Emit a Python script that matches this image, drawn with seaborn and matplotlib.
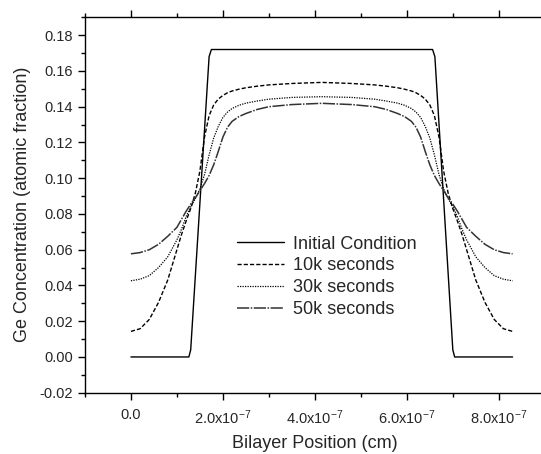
import numpy as np
import pandas as pd
import seaborn as sns
import matplotlib.pyplot as plt
from matplotlib.ticker import MultipleLocator, FormatStrFormatter

# positions in units of 1e-7 cm
x_init = [0.0, 1.26, 1.30, 1.70, 1.75, 6.56, 6.61, 7.00, 7.04, 8.30]
c_init = [0.0, 0.0, 0.004, 0.168, 0.172, 0.172, 0.168, 0.004, 0.0, 0.0]

x_diff = [0.0, 0.2, 0.4, 0.6, 0.8, 1.0, 1.1, 1.2, 1.3, 1.4, 1.5, 1.6, 1.7, 1.8,
          1.9, 2.0, 2.1, 2.2, 2.35, 2.5, 2.75, 3.0, 3.5, 4.15,
          4.8, 5.3, 5.55, 5.8, 5.95, 6.1, 6.2, 6.3, 6.4, 6.5, 6.6, 6.7, 6.8,
          6.9, 7.0, 7.1, 7.2, 7.3, 7.5, 7.7, 7.9, 8.1, 8.3]
c_10k = [0.0143, 0.0158, 0.0210, 0.0305, 0.0430, 0.0600, 0.0685, 0.0760, 0.0830,
         0.0915, 0.1040, 0.1230, 0.1350, 0.1410, 0.1443, 0.1463, 0.1478, 0.1488,
         0.1498, 0.1506, 0.1515, 0.1522, 0.1530, 0.1536,
         0.1530, 0.1522, 0.1515, 0.1506, 0.1498, 0.1488, 0.1478, 0.1463, 0.1443,
         0.1410, 0.1350, 0.1230, 0.1040, 0.0915, 0.0830, 0.0760, 0.0685, 0.0600,
         0.0430, 0.0305, 0.0210, 0.0158, 0.0143]
c_30k = [0.0426, 0.0435, 0.0455, 0.0500, 0.0560, 0.0655, 0.0715, 0.0785, 0.0840,
         0.0885, 0.0940, 0.1020, 0.1130, 0.1225, 0.1290, 0.1340, 0.1370, 0.1390,
         0.1408, 0.1420, 0.1432, 0.1442, 0.1452, 0.1456,
         0.1452, 0.1442, 0.1432, 0.1420, 0.1408, 0.1390, 0.1370, 0.1340, 0.1290,
         0.1225, 0.1130, 0.1020, 0.0940, 0.0885, 0.0840, 0.0785, 0.0715, 0.0655,
         0.0560, 0.0500, 0.0455, 0.0435, 0.0426]
c_50k = [0.0577, 0.0584, 0.0600, 0.0630, 0.0675, 0.0725, 0.0770, 0.0815, 0.0855,
         0.0890, 0.0930, 0.0970, 0.1015, 0.1075, 0.1150, 0.1230, 0.1285, 0.1318,
         0.1345, 0.1362, 0.1385, 0.1400, 0.1412, 0.1419,
         0.1412, 0.1400, 0.1385, 0.1362, 0.1345, 0.1318, 0.1285, 0.1230, 0.1150,
         0.1075, 0.1015, 0.0970, 0.0930, 0.0890, 0.0855, 0.0815, 0.0770, 0.0725,
         0.0675, 0.0630, 0.0600, 0.0584, 0.0577]

labels = ["Initial Condition", "10k seconds", "30k seconds", "50k seconds"]
xtick_vals = [0, 2, 4, 6, 8]
xtick_labels = ["0.0", "2.0x10$^{-7}$", "4.0x10$^{-7}$", "6.0x10$^{-7}$", "8.0x10$^{-7}$"]

sns.set_style("ticks")
plt.rcParams['font.family'] = ['Liberation Sans', 'DejaVu Sans']
plt.rcParams['mathtext.fontset'] = 'custom'
plt.rcParams['mathtext.rm'] = 'Liberation Sans'
plt.rcParams['mathtext.it'] = 'Liberation Sans'
plt.rcParams['axes.unicode_minus'] = False

fig = plt.figure(figsize=(5.41, 4.54), dpi=100)
# right spine sits just past the image edge, as in the original
ax = fig.add_axes([0.157, 0.135, 0.850, 0.828])

sns.lineplot(x=np.array(x_init) * 1e-7, y=c_init, ax=ax, color="black", lw=1.0,
             label=labels[0])
sns.lineplot(x=np.array(x_diff) * 1e-7, y=c_10k, ax=ax, color="black", lw=1.0,
             linestyle=(0, (3, 1.5)), label=labels[1])
sns.lineplot(x=np.array(x_diff) * 1e-7, y=c_30k, ax=ax, color="black", lw=0.9,
             linestyle=(0, (1, 1)), label=labels[2])
sns.lineplot(x=np.array(x_diff) * 1e-7, y=c_50k, ax=ax, color="#333333", lw=1.1,
             linestyle=(0, (8, 1, 1, 1)), label=labels[3])

ax.set_xlim(-1e-7, 9e-7)
ax.set_ylim(-0.02, 0.1903)
ax.set_xticks(np.array(xtick_vals) * 1e-7)
ax.set_xticklabels(xtick_labels)
ax.xaxis.set_minor_locator(MultipleLocator(1e-7))
ax.yaxis.set_major_locator(MultipleLocator(0.02))
ax.yaxis.set_minor_locator(MultipleLocator(0.01))
ax.yaxis.set_major_formatter(FormatStrFormatter('%.2f'))

for s in ax.spines.values():
    s.set_linewidth(1.0)
    s.set_color("black")
ax.tick_params(which='major', direction='out', length=5, width=1.0,
               labelsize=10.5, top=True, right=True, color="black")
ax.tick_params(which='minor', direction='out', length=3, width=1.0,
               top=True, right=True, color="black")
ax.tick_params(axis='x', which='major', pad=6)

ax.set_xlabel("Bilayer Position (cm)", fontsize=13, labelpad=6)
ax.set_ylabel("Ge Concentration (atomic fraction)", fontsize=13, labelpad=6)

ax.legend(loc="upper left", bbox_to_anchor=(0.331, 0.418),
          frameon=False, fontsize=13, handlelength=2.6, handletextpad=0.5,
          labelspacing=0.27, borderpad=0, borderaxespad=0)

fig.savefig("out.png", dpi=100)
